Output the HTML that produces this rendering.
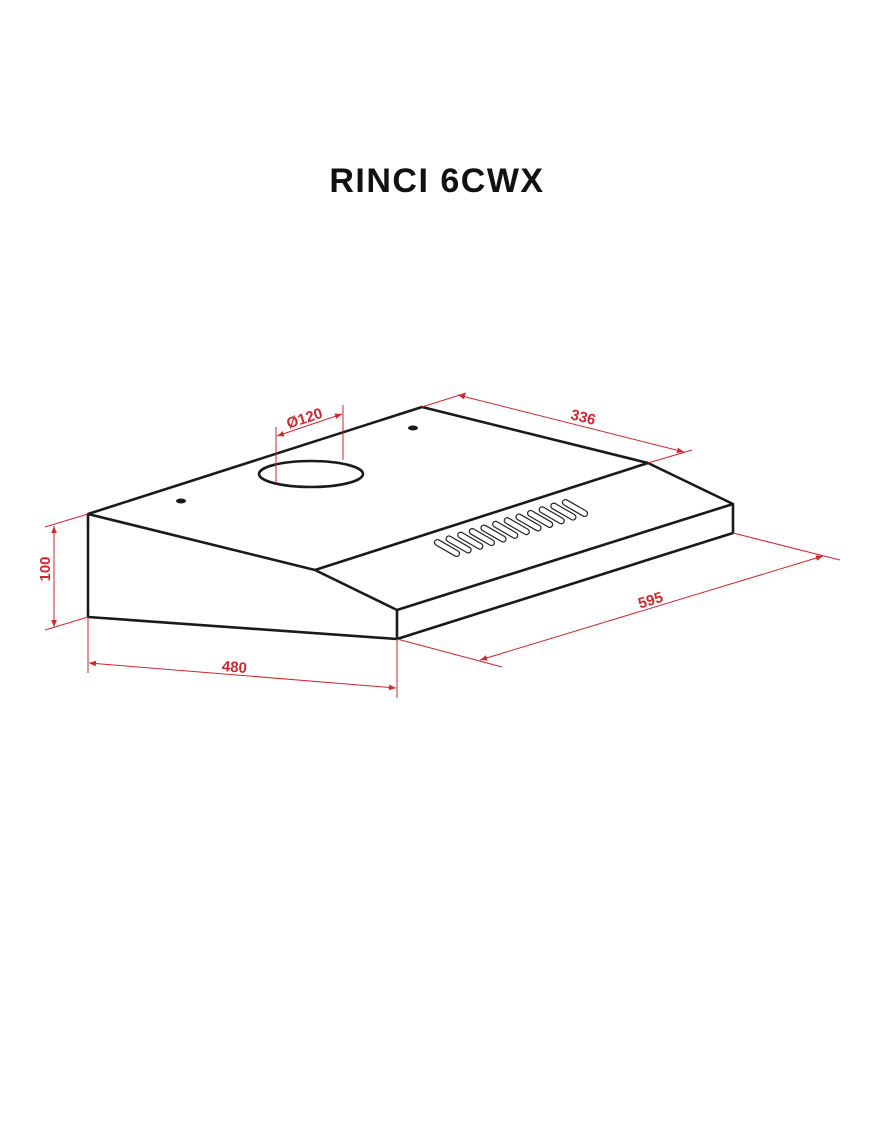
<!DOCTYPE html>
<html><head><style>
body{margin:0;background:#fff;width:870px;height:1131px;overflow:hidden}
svg{display:block}
</style></head><body>
<svg width="870" height="1131" viewBox="0 0 870 1131" xmlns="http://www.w3.org/2000/svg">
<defs>
<marker id="ar" viewBox="0 0 10 10" refX="10" refY="5" markerWidth="9" markerHeight="7" orient="auto-start-reverse" markerUnits="userSpaceOnUse">
<path d="M0,1 L10,5 L0,9 z" fill="#d3262e"/></marker>
<rect id="s" x="-14" y="-2.9" width="28" height="5.8" rx="2.9" transform="rotate(30)" stroke="#222" stroke-width="1.2" fill="none"/>
</defs>
<text x="437" y="192" text-anchor="middle" font-family="Liberation Sans, sans-serif" font-weight="bold" font-size="34" letter-spacing="1.5" fill="#111">RINCI 6CWX</text>
<g stroke="#1a1a1a" stroke-width="2.6" fill="none" stroke-linejoin="round">
<path d="M88,514 L422,407 L648,463 L733,504 L733,533 L397,639 L88,617 Z"/>
<path d="M88,514 L315,570 L397,610 L733,504"/>
<path d="M397,610 L397,639"/>
<path d="M315,570 L648,463"/>
<ellipse cx="311" cy="474" rx="52" ry="13"/>
</g>
<ellipse cx="181" cy="501" rx="5" ry="2.5" fill="#1a1a1a"/>
<ellipse cx="413" cy="428" rx="5" ry="2.5" fill="#1a1a1a"/>
<use href="#s" transform="translate(447,548)"/>
<use href="#s" transform="translate(458.6,544.4)"/>
<use href="#s" transform="translate(470.3,540.7)"/>
<use href="#s" transform="translate(481.9,537.1)"/>
<use href="#s" transform="translate(493.5,533.5)"/>
<use href="#s" transform="translate(505.2,529.8)"/>
<use href="#s" transform="translate(516.8,526.2)"/>
<use href="#s" transform="translate(528.5,522.5)"/>
<use href="#s" transform="translate(540.1,518.9)"/>
<use href="#s" transform="translate(551.7,515.3)"/>
<use href="#s" transform="translate(563.4,511.6)"/>
<use href="#s" transform="translate(575,508)"/>
<g stroke="#d3262e" stroke-width="1" fill="none">
<path d="M88,514 L45,527 M88,617 L45,630"/>
<path d="M54,526 L54,627" marker-start="url(#ar)" marker-end="url(#ar)"/>
<path d="M88,617 L88,673 M397,639 L397,698"/>
<path d="M89,663 L396,688" marker-start="url(#ar)" marker-end="url(#ar)"/>
<path d="M276,427 L276,483 M343,405 L343,460"/>
<path d="M277,436 L342,414" marker-start="url(#ar)" marker-end="url(#ar)"/>
<path d="M422,407 L466,393 M648,463 L692,450"/>
<path d="M458,395 L684,452" marker-start="url(#ar)" marker-end="url(#ar)"/>
<path d="M733,533 L840,560 M397,639 L502,667"/>
<path d="M480,660 L823,556" marker-start="url(#ar)" marker-end="url(#ar)"/>
</g>
<g fill="#d3262e" font-family="Liberation Sans, sans-serif" font-size="15" font-weight="bold" text-anchor="middle">
<text transform="translate(50,569) rotate(-90)">100</text>
<text transform="translate(234,672) rotate(4.6)">480</text>
<text transform="translate(306,423) rotate(-18)">Ø120</text>
<text transform="translate(582,422) rotate(14)">336</text>
<text transform="translate(652,605) rotate(-17)">595</text>
</g>
</svg>
</body></html>
